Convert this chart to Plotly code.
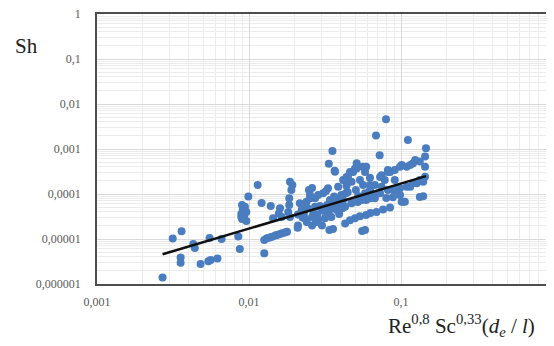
import plotly.graph_objects as go

# Data
x_vals = [
    0.0027, 0.00315, 0.0036, 0.00355, 0.00355, 0.0043, 0.0044, 0.0048, 0.0054, 0.0056,
    0.0062, 0.0055, 0.0066, 0.0085, 0.0087, 0.0099, 0.009, 0.0094, 0.0091, 0.0096,
    0.0089, 0.0093, 0.009, 0.0096, 0.0093, 0.0089, 0.0114, 0.0121, 0.0126, 0.0126,
    0.0131, 0.0137, 0.0142, 0.0149, 0.0153, 0.016, 0.0165, 0.0172, 0.0178, 0.0139,
    0.016, 0.0157, 0.0164, 0.0144, 0.0186, 0.0193, 0.019, 0.0184, 0.0184, 0.0181,
    0.0186, 0.0209, 0.021, 0.0216, 0.0222, 0.0227, 0.0239, 0.0233, 0.0248, 0.0252,
    0.0252, 0.026, 0.026, 0.026, 0.0272, 0.0272, 0.0285, 0.0285, 0.0299, 0.0307,
    0.0316, 0.0321, 0.0331, 0.0341, 0.0368, 0.0348, 0.0378, 0.0397, 0.0416, 0.0386,
    0.0405, 0.0433, 0.0368, 0.0354, 0.0335, 0.0366, 0.0338, 0.0357, 0.021, 0.023,
    0.0243, 0.0265, 0.0281, 0.0293, 0.0311, 0.0326, 0.0335, 0.0353, 0.0363, 0.038,
    0.0392, 0.0411, 0.0429, 0.0276, 0.0302, 0.024, 0.0225,
    0.0797, 0.0685, 0.0724, 0.111, 0.146, 0.144, 0.133, 0.12, 0.109, 0.101,
    0.091, 0.082, 0.0745, 0.144, 0.0511, 0.0498, 0.0484, 0.056, 0.058, 0.0448,
    0.0473, 0.0438, 0.0563, 0.0625, 0.0673, 0.0745, 0.089, 0.0985, 0.109, 0.12,
    0.133, 0.144, 0.14, 0.058, 0.064, 0.0625, 0.071, 0.082, 0.0985, 0.0473,
    0.055, 0.0673, 0.103, 0.0429, 0.0462, 0.0498, 0.0537, 0.059, 0.063, 0.069,
    0.0762, 0.0847, 0.101, 0.106, 0.133, 0.14, 0.058, 0.0555, 0.0429, 0.0473,
    0.052, 0.059, 0.0728, 0.0927, 0.115, 0.127, 0.115, 0.124, 0.0985, 0.0847,
    0.0728, 0.0438, 0.0416, 0.0462, 0.0511, 0.0625, 0.059, 0.082, 0.0537, 0.0782,
    0.091, 0.0505, 0.0446, 0.0625, 0.0523, 0.08, 0.0885,
]
sh_vals = [
    1.4e-6, 1.03e-5, 1.48e-5, 3.9e-6, 2.95e-6, 7.7e-6, 6.3e-6, 2.8e-6, 3.2e-6, 3.4e-6,
    3.7e-6, 1.05e-5, 1.0e-5, 1.14e-5, 6.0e-6, 8.8e-5, 5.7e-5, 5.2e-5, 4.4e-5, 4.0e-5,
    3.6e-5, 3.3e-5, 2.8e-5, 2.5e-5, 4.7e-5, 3.1e-5, 1.58e-4, 6.3e-5, 4.8e-6, 9.5e-6,
    1.04e-5, 1.08e-5, 1.12e-5, 1.2e-5, 1.23e-5, 1.29e-5, 1.34e-5, 1.4e-5, 1.45e-5, 5.4e-5,
    4.8e-5, 3.7e-5, 3.1e-5, 2.9e-5, 1.88e-4, 1.58e-4, 1.23e-4, 8.0e-5, 5.7e-5, 4.0e-5,
    3.1e-5, 1.77e-5, 2.0e-5, 6.2e-5, 4.4e-5, 5.7e-5, 6.7e-5, 2.9e-5, 1.23e-4, 9.5e-5,
    8.0e-5, 1.36e-4, 3.1e-5, 2.0e-5, 8.0e-5, 5.2e-5, 9.5e-5, 2.64e-5, 4.4e-5, 1.04e-4,
    2.9e-5, 1.16e-4, 1.34e-4, 7.4e-5, 6.3e-5, 3.1e-5, 4.4e-5, 6.2e-5, 7.4e-5, 1.45e-4,
    9.5e-5, 1.04e-4, 3.13e-4, 9.0e-4, 4.7e-4, 3.3e-4, 1.58e-5, 1.66e-5, 3.5e-5, 3.8e-5,
    4.8e-5, 3.8e-5, 3.4e-5, 5.4e-5, 4.2e-5, 5.7e-5, 4.0e-5, 4.8e-5, 8.8e-5, 7.7e-5,
    3.6e-5, 4.8e-5, 1.96e-4, 2.4e-5, 2.0e-5, 2.4e-5, 3.0e-5,
    4.6e-3, 2.0e-3, 7.3e-4, 1.58e-3, 1.04e-3, 6.8e-4, 5.3e-4, 4.8e-4, 4.05e-4, 4.4e-4,
    3.4e-4, 3.1e-4, 2.6e-4, 4.05e-4, 4.8e-4, 3.7e-4, 3.1e-4, 4.05e-4, 3.1e-4, 2.4e-4,
    1.88e-4, 1.5e-4, 1.58e-4, 1.58e-4, 1.58e-4, 1.45e-4, 1.23e-4, 1.34e-4, 1.45e-4, 1.73e-4,
    2.05e-4, 2.42e-4, 1.88e-4, 1.04e-4, 1.04e-4, 8.0e-5, 1.04e-4, 1.23e-4, 9.5e-5, 6.7e-5,
    7.4e-5, 8.0e-5, 6.7e-5, 2.2e-5, 2.6e-5, 2.9e-5, 3.2e-5, 3.4e-5, 3.8e-5, 4.0e-5,
    4.5e-5, 5.0e-5, 6.7e-5, 6.7e-5, 8.6e-5, 8.9e-5, 1.58e-5, 1.5e-5, 5.2e-5, 6.2e-5,
    6.6e-5, 7.4e-5, 1.04e-4, 1.23e-4, 1.45e-4, 1.73e-4, 4.4e-4, 5.7e-4, 4.05e-4, 3.1e-4,
    2.4e-4, 2.4e-4, 2.05e-4, 3.1e-4, 3.7e-4, 2.3e-4, 4.05e-4, 3.4e-4, 2.05e-4, 2.05e-4,
    2.05e-4, 1.23e-4, 1.1e-4, 1.23e-4, 9.0e-5, 8.1e-5, 8.5e-5,
]
fit_x = [0.0027, 0.146]
fit_sh = [4.6e-6, 2.5e-4]

x_tickvals = [0.001, 0.01, 0.1, 1]
x_ticktext = ["0,001", "0,01", "0,1", "1"]
y_tickvals = [1e-6, 1e-5, 1e-4, 1e-3, 1e-2, 1e-1, 1]
y_ticktext = ["0,000001", "0,00001", "0,0001", "0,001", "0,01", "0,1", "1"]

fig = go.Figure()
fig.add_trace(go.Scatter(
    x=x_vals, y=sh_vals, mode="markers",
    marker=dict(size=8, color="#4a7dbf", line=dict(width=0)),
    showlegend=False, hoverinfo="skip",
))
fig.add_trace(go.Scatter(
    x=fit_x, y=fit_sh, mode="lines",
    line=dict(color="#111111", width=2.5),
    showlegend=False, hoverinfo="skip",
))

tick_font = dict(family="Liberation Serif", size=12, color="#595959")
grid_major = "#d9d9d9"
grid_minor = "#ececec"

fig.update_xaxes(
    type="log", range=[-3, 0], automargin=False, ticklabeloverflow="allow",
    tickvals=x_tickvals, ticktext=x_ticktext,
    tickfont=tick_font, ticks="", ticklabelstandoff=6,
    showgrid=True, gridcolor=grid_major, gridwidth=1,
    minor=dict(showgrid=True, gridcolor=grid_minor, gridwidth=1, dtick="D1"),
    showline=True, linecolor="#4d4d4d", linewidth=1.5, mirror=True,
    zeroline=False,
)
fig.update_yaxes(
    type="log", range=[-6, 0], automargin=False, ticklabeloverflow="allow",
    tickvals=y_tickvals, ticktext=y_ticktext,
    tickfont=tick_font, ticks="", ticklabelstandoff=12,
    showgrid=True, gridcolor=grid_major, gridwidth=1,
    minor=dict(showgrid=True, gridcolor=grid_minor, gridwidth=1, dtick="D1"),
    showline=True, linecolor="#4d4d4d", linewidth=1.5, mirror=True,
    zeroline=False,
)

fig.add_annotation(
    text="Sh", xref="paper", yref="paper", x=-0.154, y=0.881,
    showarrow=False, xanchor="center", yanchor="middle",
    font=dict(family="Liberation Serif", size=21, color="#222222"),
)
fig.add_annotation(
    text="Re<sup>0,8</sup> Sc<sup>0,33</sup>(<i>d<sub>e</sub></i> / <i>l</i>)",
    xref="paper", yref="paper", x=0.80, y=-0.155,
    showarrow=False, xanchor="center", yanchor="middle",
    font=dict(family="Liberation Serif", size=21, color="#222222"),
)

fig.update_layout(
    width=554, height=346,
    margin=dict(l=89, r=9, t=6, b=70),
    paper_bgcolor="white", plot_bgcolor="white",
)

fig.write_html("out.html")
